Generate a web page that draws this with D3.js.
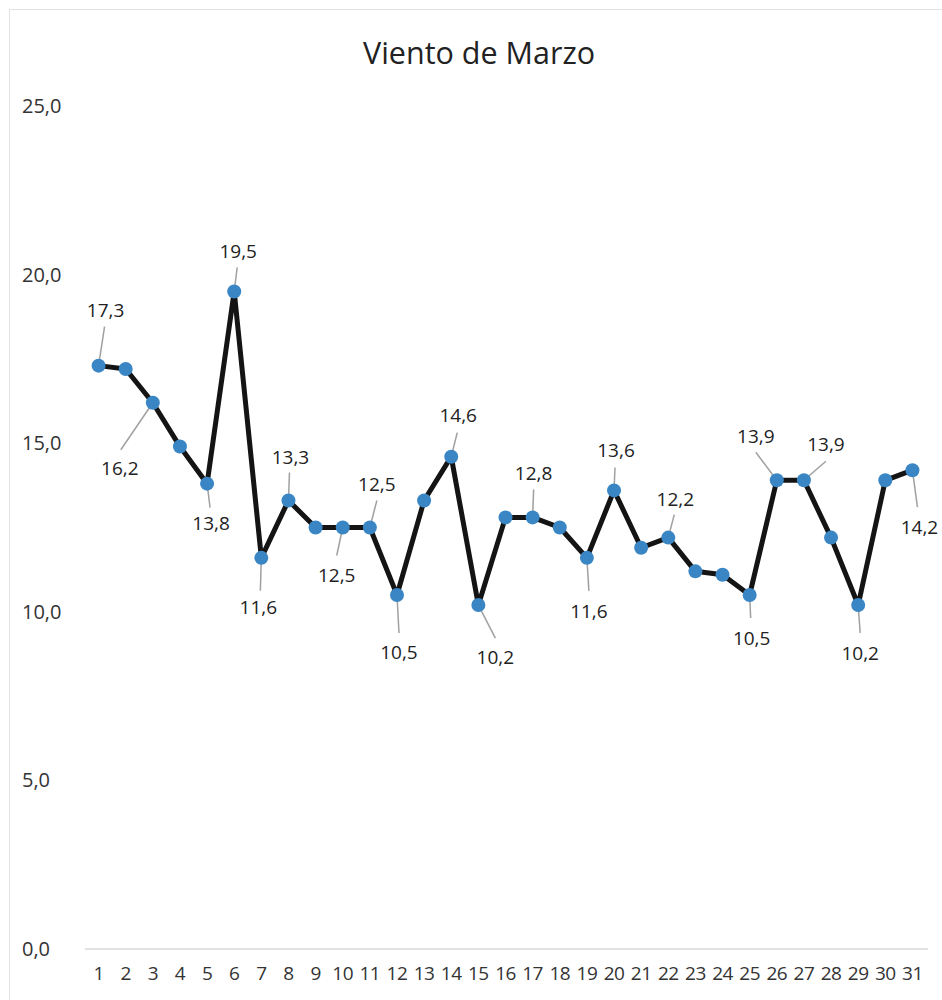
<!DOCTYPE html>
<html>
<head>
<meta charset="utf-8">
<script src="https://cdn.jsdelivr.net/npm/d3@7"></script>
<style>
  body { margin: 0; background: #fff; }
  svg { display: block; font-family: "Open Sans", sans-serif; }
</style>
</head>
<body>
<div class="render"></div>
<script>
"use strict";

var width = 942;
var height = 1000;

// data
var days = d3.range(1, 32);
var viento = [17.3, 17.2, 16.2, 14.9, 13.8, 19.5, 11.6, 13.3, 12.5, 12.5,
              12.5, 10.5, 13.3, 14.6, 10.2, 12.8, 12.8, 12.5, 11.6, 13.6,
              11.9, 12.2, 11.2, 11.1, 10.5, 13.9, 13.9, 12.2, 10.2, 13.9, 14.2];
var labeledDays = [1, 3, 5, 6, 7, 8, 10, 11, 12, 14, 15, 17, 19, 20, 22, 25, 26, 27, 29, 31];
var yTicks = [0, 5, 10, 15, 20, 25];
var title = "Viento de Marzo";

// where each label sits relative to its point: [text dx, text dy, line end dx, line end dy]
var labelLayout = {
   1: [7, -55, 6, -39], 3: [-33, 66, -32, 47], 5: [4, 40, 3, 24], 6: [4, -40, 3, -24],
   7: [-3, 50, -1, 33], 8: [2, -43, 1, -28], 10: [-6, 48, -6, 28], 11: [7, -43, 7, -27],
   12: [2, 57, 2, 38], 14: [7, -41, 6, -24], 15: [17, 52, 17, 33], 17: [1, -44, 1, -28],
   19: [2, 54, 2, 33], 20: [2, -40, 1, -23], 22: [7, -38, 6, -23], 25: [2, 43, 1, 23],
   26: [-21, -44, -21, -28], 27: [22, -36, 22, -19], 29: [2, 48, 2, 28], 31: [7, 57, 5, 37]
};

var fmt = function (v) { return d3.format(".1f")(v).replace(".", ","); };

var svg = d3.select('.render').append('svg').attr('width', width).attr('height', height);

// chart border
svg.append('rect').attr('x', 9.5).attr('y', 9.5).attr('width', 960).attr('height', 1010)
   .attr('fill', 'none').attr('stroke', '#e2e2e2');

var x = d3.scaleBand().domain(days).range([85, 926]);
var y = d3.scaleLinear().domain([0, 25]).range([949, 106]);
var cx = function (d) { return x(d) + x.bandwidth() / 2; };

svg.append('text').attr('x', 479).attr('y', 64).attr('text-anchor', 'middle')
   .attr('font-size', 30.5).attr('fill', '#222').text(title);

// y tick labels (no gridlines except baseline)
svg.selectAll('.ytick').data(yTicks).enter().append('text').attr('class', 'ytick')
   .attr('x', 22).attr('y', function (d) { return y(d); }).attr('dy', '0.35em')
   .attr('font-size', 20).attr('fill', '#333').text(fmt);

svg.append('line').attr('x1', 85).attr('x2', 928).attr('y1', y(0)).attr('y2', y(0))
   .attr('stroke', '#d9d9d9').attr('stroke-width', 1.5);

svg.selectAll('.xtick').data(days).enter().append('text').attr('class', 'xtick')
   .attr('x', cx).attr('y', 973).attr('dy', '0.35em').attr('text-anchor', 'middle')
   .attr('font-size', 19).attr('letter-spacing', -0.5).attr('fill', '#333')
   .text(function (d) { return d; });

var pts = days.map(function (d, i) { return { day: d, v: viento[i] }; });

svg.append('path').datum(pts)
   .attr('d', d3.line().x(function (d) { return cx(d.day); }).y(function (d) { return y(d.v); }))
   .attr('fill', 'none').attr('stroke', '#141414').attr('stroke-width', 5).attr('stroke-linejoin', 'round');

var labeled = pts.filter(function (p) { return labeledDays.indexOf(p.day) >= 0; });

svg.selectAll('.leader').data(labeled).enter().append('line').attr('class', 'leader')
   .attr('x1', function (d) { return cx(d.day); }).attr('y1', function (d) { return y(d.v); })
   .attr('x2', function (d) { return cx(d.day) + labelLayout[d.day][2]; })
   .attr('y2', function (d) { return y(d.v) + labelLayout[d.day][3]; })
   .attr('stroke', '#a0a0a0').attr('stroke-width', 1.5);

svg.selectAll('.dot').data(pts).enter().append('circle').attr('class', 'dot')
   .attr('cx', function (d) { return cx(d.day); }).attr('cy', function (d) { return y(d.v); })
   .attr('r', 7).attr('fill', '#3a86c4');

svg.selectAll('.lbl').data(labeled).enter().append('text').attr('class', 'lbl')
   .attr('x', function (d) { return cx(d.day) + labelLayout[d.day][0]; })
   .attr('y', function (d) { return y(d.v) + labelLayout[d.day][1]; })
   .attr('dy', '0.35em').attr('text-anchor', 'middle')
   .attr('font-size', 19).attr('fill', '#222').text(function (d) { return fmt(d.v); });
</script>
</body>
</html>
